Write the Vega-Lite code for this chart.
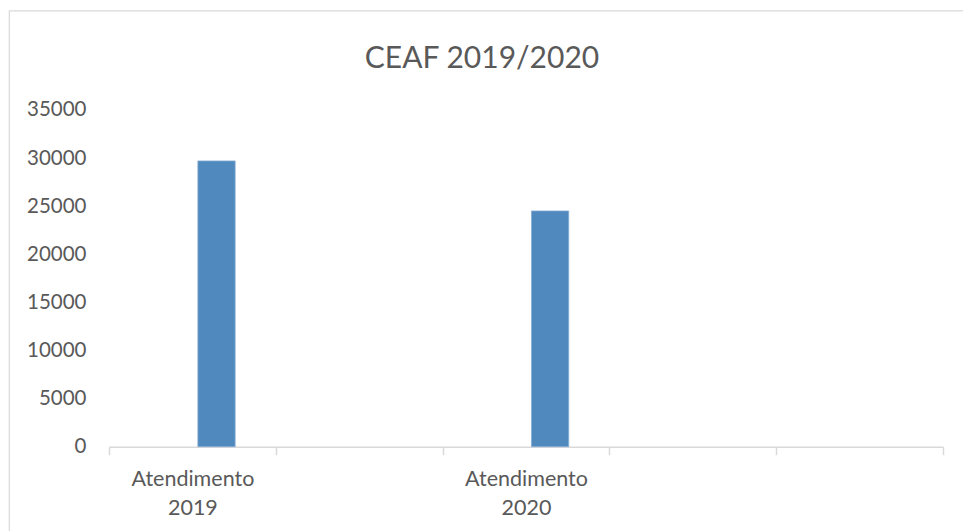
{
  "$schema": "https://vega.github.io/schema/vega-lite/v6.json",
  "autosize": {"type": "none"},
  "padding": {"left": 9, "top": 10.5, "right": 0, "bottom": 0},
  "width": 960,
  "height": 530,
  "background": "white",
  "title": {
    "text": "CEAF 2019/2020",
    "font": "Lato",
    "fontSize": 30,
    "fontWeight": "normal",
    "color": "#595959",
    "anchor": "middle",
    "frame": "group",
    "baseline": "alphabetic",
    "offset": 0,
    "dy": 87.5,
    "dx": -7
  },
  "data": {
    "values": [
      {"categoria": "Atendimento 2019", "serie": "Atendimento", "valor": 29700},
      {"categoria": "Atendimento 2020", "serie": "Atendimento", "valor": 24500}
    ]
  },
  "mark": {"type": "bar", "color": "#4F89BD", "stroke": "#8AB0D6", "strokeWidth": 0.8},
  "encoding": {
    "x": {
      "field": "categoria",
      "type": "nominal",
      "sort": null,
      "scale": {
        "domain": ["Atendimento 2019", "c2", "Atendimento 2020", "c4", "c5"],
        "range": [100, 934],
        "paddingInner": 0,
        "paddingOuter": 0
      },
      "axis": {
        "title": null,
        "orient": "bottom",
        "offset": -93.8,
        "labelAngle": 0,
        "labelExpr": "isString(datum.value) && indexof(datum.value,'Atendimento')==0 ? split(datum.value,' ') : ''",
        "labelFont": "Lato",
        "labelFontSize": 21.5,
        "labelColor": "#595959",
        "labelLineHeight": 29,
        "labelBaseline": "top",
        "labelPadding": 13.5,
        "domainColor": "#d9d9d9",
        "domainWidth": 1.5,
        "tickColor": "#d9d9d9",
        "tickWidth": 1.5,
        "tickSize": 8,
        "tickBand": "extent",
        "grid": false
      }
    },
    "xOffset": {
      "field": "serie",
      "type": "nominal",
      "scale": {"domain": ["outra", "Atendimento"], "paddingInner": 0.226, "paddingOuter": 0.843}
    },
    "y": {
      "field": "valor",
      "type": "quantitative",
      "scale": {"domain": [0, 35000], "range": [436.2, 99.4], "nice": false, "zero": true},
      "axis": {
        "title": null,
        "orient": "left",
        "offset": -100,
        "values": [0, 5000, 10000, 15000, 20000, 25000, 30000, 35000],
        "format": "d",
        "labelFont": "Lato",
        "labelFontSize": 20.5,
        "labelColor": "#595959",
        "labelPadding": 23,
        "domain": false,
        "ticks": false,
        "grid": false
      }
    }
  },
  "config": {
    "view": {"stroke": "#d9d9d9", "strokeWidth": 1.2, "fill": "white"},
    "legend": {"disable": true}
  }
}
